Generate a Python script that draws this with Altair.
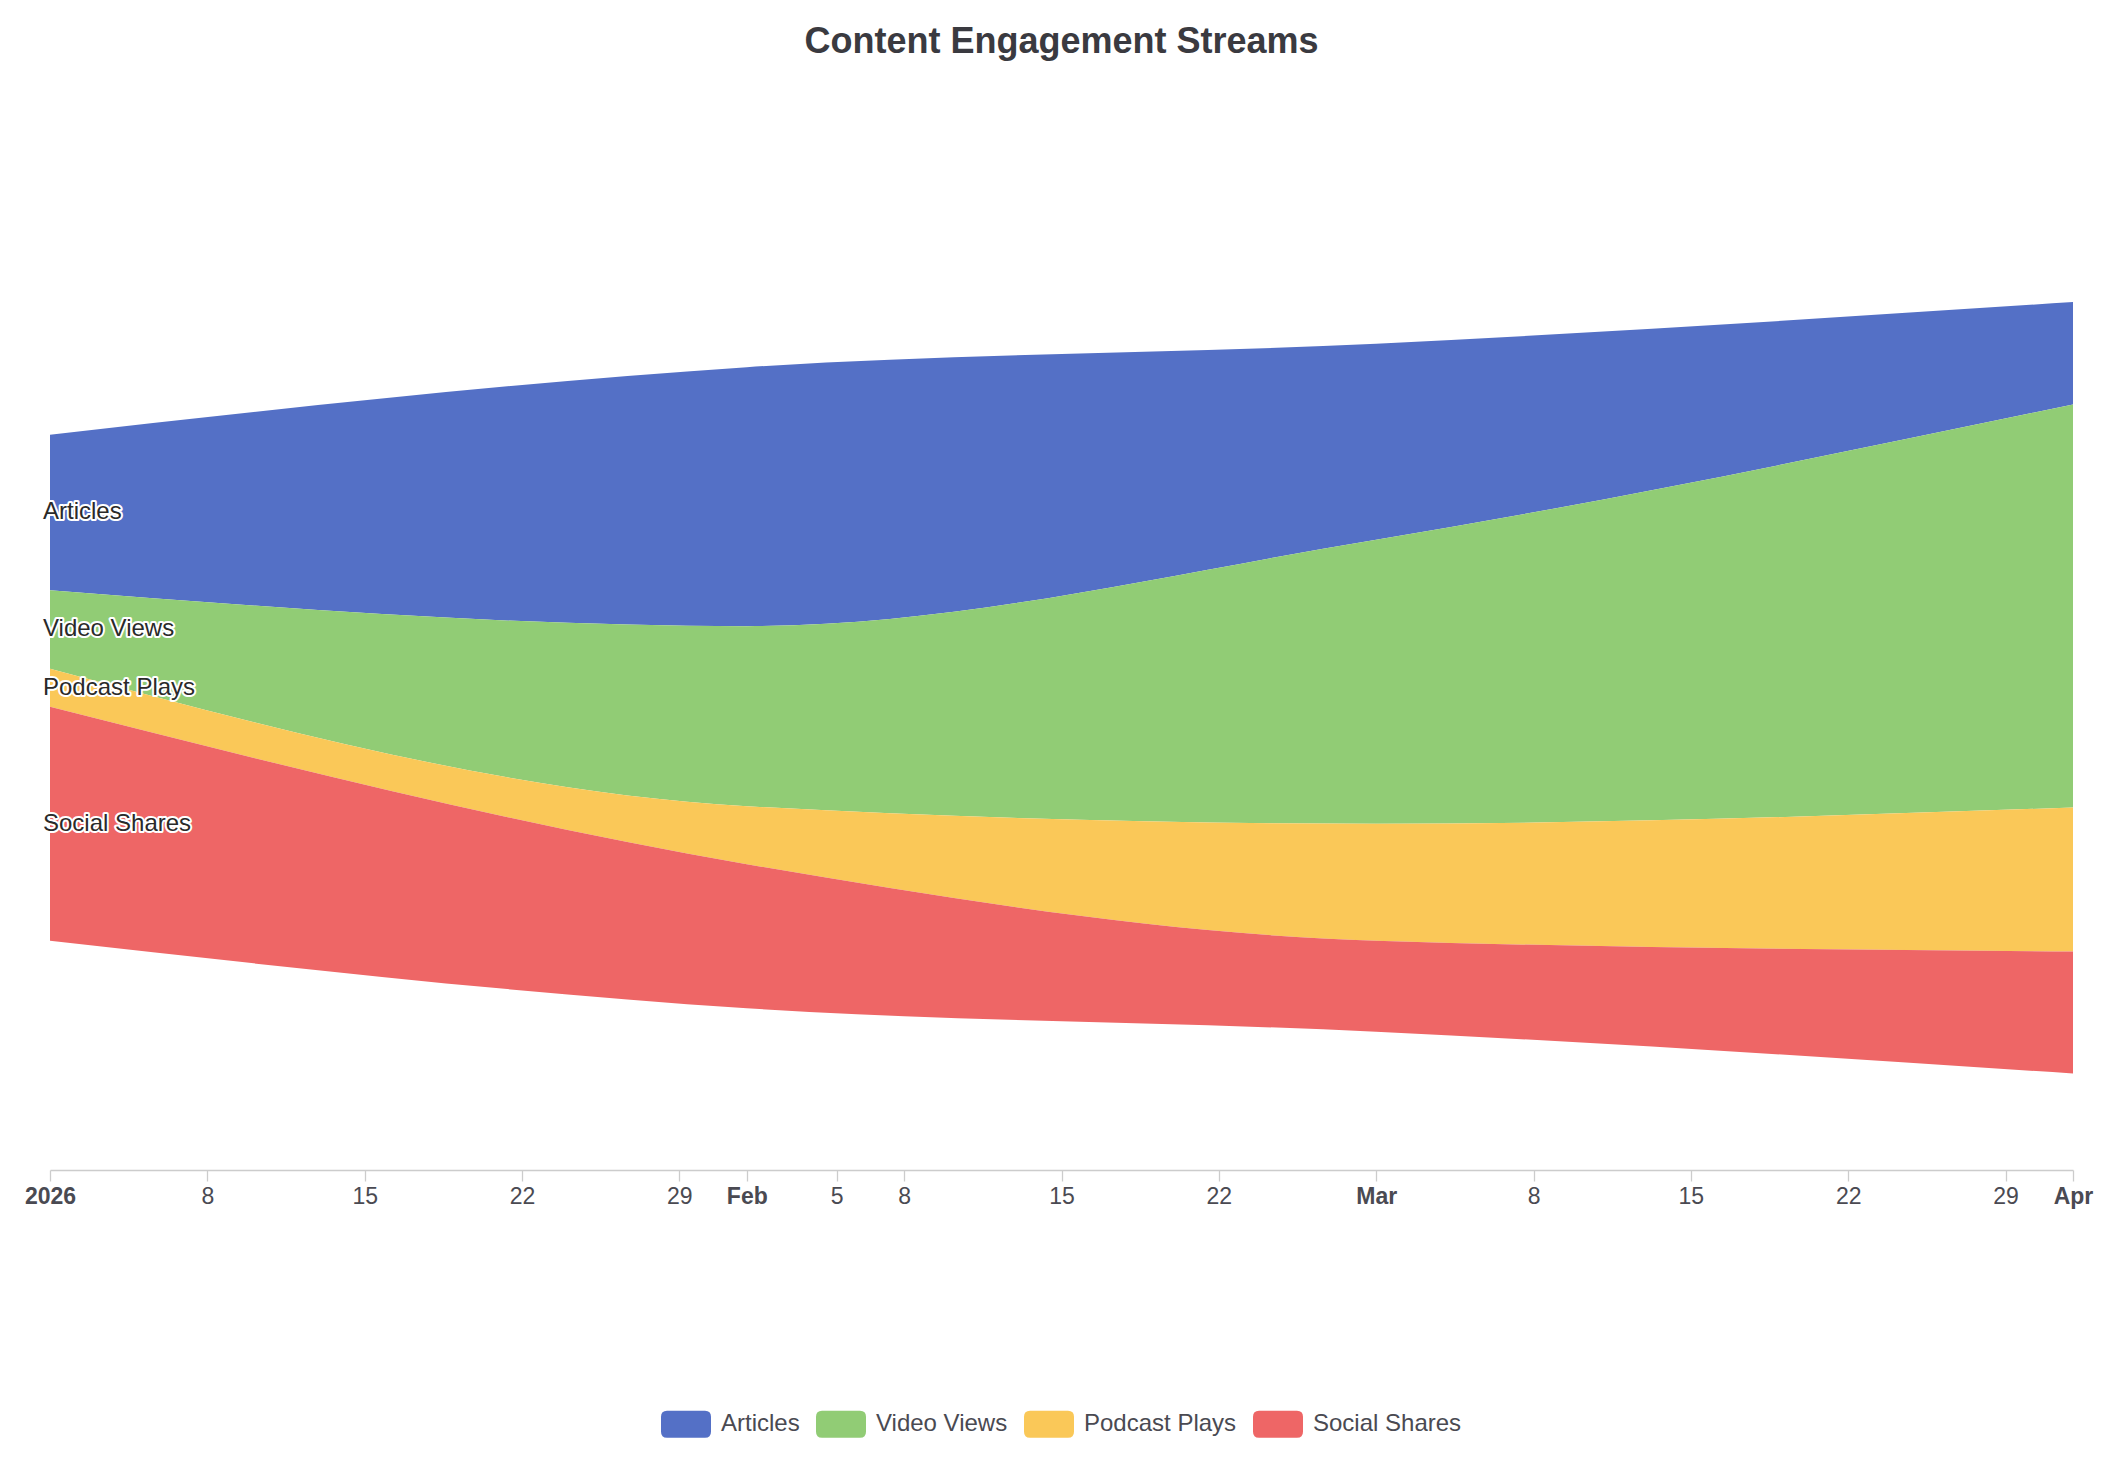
import altair as alt
import pandas as pd

# ---- data ----
dates = ["2026-01-01T00:00:00", "2026-02-01T00:00:00", "2026-03-01T00:00:00", "2026-04-01T00:00:00"]
series_names = ["Articles", "Video Views", "Podcast Plays", "Social Shares"]
articles = [1555, 2590, 1960, 1025]
video_views = [785, 1800, 2840, 4030]
podcast_plays = [380, 580, 1170, 1440]
social_shares = [2340, 1440, 910, 1220]
colors = ["#5470c6", "#91cc75", "#fac858", "#ee6666"]

tick_dates = [(1, 1), (1, 8), (1, 15), (1, 22), (1, 29), (2, 1), (2, 5), (2, 8),
              (2, 15), (2, 22), (3, 1), (3, 8), (3, 15), (3, 22), (3, 29), (4, 1)]

rows = []
for name, vals in zip(series_names, [articles, video_views, podcast_plays, social_shares]):
    for d, v in zip(dates, vals):
        rows.append({"date": d, "series": name, "value": v,
                     "ord": len(series_names) - 1 - series_names.index(name)})
df = pd.DataFrame(rows)

y_domain = [-965.5, 9734.5]

base = alt.Chart(df).transform_stack(
    stack="value", groupby=["date"], as_=["y0", "y1"], offset="center",
    sort=[alt.SortField("ord", order="ascending")]
).transform_calculate(mid="(datum.y0 + datum.y1) / 2")

x_enc = alt.X(
    "date:T", title=None,
    scale=alt.Scale(padding=0),
    axis=alt.Axis(
        values=[alt.DateTime(year=2026, month=m, date=d) for m, d in tick_dates],
        labelExpr="date(datum.value) == 1 ? (month(datum.value) == 0 ? '' + year(datum.value) : timeFormat(datum.value, '%b')) : '' + date(datum.value)",
        labelFontWeight=alt.ExprRef(expr="date(datum.value) == 1 ? 'bold' : 'normal'"),
        labelFont="Liberation Sans", labelFontSize=23, labelColor="#4a4a52",
        labelPadding=4, labelOverlap=False, labelFlush=False,
        domainColor="#cccccc", domainWidth=1.5,
        tickColor="#cccccc", tickWidth=1.3, tickSize=11, grid=False,
    ),
)

areas = base.mark_area(interpolate="monotone", opacity=1).encode(
    x=x_enc,
    y=alt.Y("y0:Q", axis=None, stack=False,
            scale=alt.Scale(domain=y_domain, nice=False, zero=False)),
    y2="y1:Q",
    color=alt.Color(
        "series:N",
        scale=alt.Scale(domain=series_names, range=colors),
        legend=alt.Legend(
            title=None, orient="none", direction="horizontal",
            legendX=611, legendY=1299,
            symbolType="M-0.76,-0.54L0.76,-0.54Q1,-0.54,1,-0.3L1,0.3Q1,0.54,0.76,0.54L-0.76,0.54Q-1,0.54,-1,0.3L-1,-0.3Q-1,-0.54,-0.76,-0.54Z",
            symbolSize=2500, symbolStrokeWidth=0, symbolOpacity=1,
            labelFont="Liberation Sans", labelFontSize=24, labelColor="#4a4a52",
            labelOffset=10, columnPadding=16,
        ),
    ),
)

first = base.transform_filter("time(datum.date) == time(datetime(2026, 0, 1))")

halo = first.mark_text(
    align="left", baseline="middle", dx=-7, font="Liberation Sans", fontSize=24,
    color="white", stroke="white", strokeWidth=4, strokeJoin="round",
).encode(x=alt.X("date:T"), y=alt.Y("mid:Q"), text="series:N")

labels = first.mark_text(
    align="left", baseline="middle", dx=-7, font="Liberation Sans", fontSize=24,
    color="#2a2a2a",
).encode(x=alt.X("date:T"), y=alt.Y("mid:Q"), text="series:N")

chart = alt.layer(areas, halo, labels).properties(
    width=2023, height=1070,
    title=alt.TitleParams(
        "Content Engagement Streams", font="Liberation Sans", fontSize=36,
        fontWeight="bold", color="#3a3a40", anchor="middle", offset=39,
    ),
    padding={"left": 42, "top": 92, "right": 30, "bottom": 275},
    autosize=alt.AutoSizeParams(type="none"),
    background="white",
).configure_view(strokeWidth=0)

chart.save("out.html", embed_options={"renderer": "svg", "actions": False})
